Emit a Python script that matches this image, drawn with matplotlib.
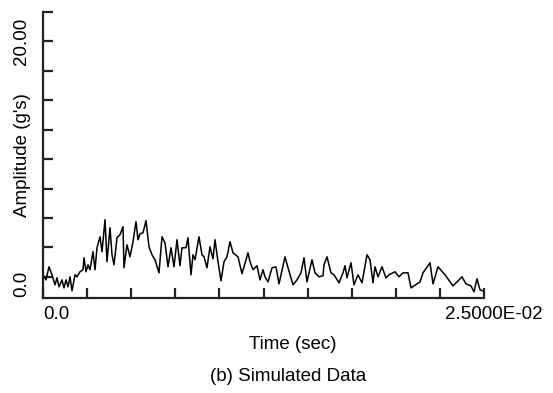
import numpy as np
import matplotlib.pyplot as plt
from matplotlib.transforms import ScaledTranslation

plt.rcParams['font.family'] = ['Liberation Sans', 'DejaVu Sans']

# time in milliseconds, amplitude in g's
time_ms = [0.000, 0.170, 0.340, 0.510, 0.680, 0.794, 0.907, 1.077, 1.190, 1.304,
           1.417, 1.531, 1.644, 1.814, 1.927, 2.098, 2.268, 2.324, 2.438, 2.551,
           2.664, 2.834, 2.948, 3.061, 3.231, 3.345, 3.515, 3.628, 3.798, 3.912,
           4.025, 4.195, 4.365, 4.535, 4.592, 4.762, 4.932, 5.102, 5.272, 5.385,
           5.499, 5.669, 5.839, 6.009, 6.179, 6.349, 6.576, 6.746, 6.916, 7.086,
           7.256, 7.426, 7.596, 7.766, 7.880, 8.107, 8.220, 8.390, 8.503, 8.617,
           8.843, 9.014, 9.127, 9.297, 9.467, 9.637, 9.751, 9.921, 10.091, 10.261,
           10.431, 10.601, 10.771, 11.054, 11.281, 11.621, 11.735, 11.905, 12.131, 12.301,
           12.472, 12.585, 12.755, 12.982, 13.209, 13.379, 13.719, 13.889, 14.172, 14.399,
           14.626, 14.796, 14.966, 15.249, 15.419, 15.646, 15.873, 15.930, 16.100, 16.326,
           16.496, 16.780, 17.007, 17.120, 17.233, 17.460, 17.630, 17.857, 18.084, 18.367,
           18.537, 18.707, 18.821, 18.991, 19.218, 19.444, 19.614, 19.955, 20.181, 20.408,
           20.691, 20.862, 21.372, 21.542, 21.939, 22.109, 22.392, 22.789, 23.242, 23.753,
           23.979, 24.263, 24.433, 24.603, 24.773, 24.943, 25.000]
amplitude = [0.17, -0.26, 0.85, 0.17, -0.68, -0.09, -0.85, -0.26, -0.94, -0.26,
             -0.85, 0.00, -1.19, 0.17, 0.00, 0.43, 0.60, 1.62, 0.43, 1.02,
             0.60, 2.13, 0.60, 2.47, 3.40, 2.13, 4.85, 1.28, 4.17, 1.87,
             1.02, 3.32, 3.57, 4.26, 0.77, 2.72, 1.70, 2.98, 4.68, 3.15,
             3.66, 3.74, 4.77, 2.55, 1.87, 1.45, 0.34, 3.40, 2.89, 0.85,
             2.47, 0.85, 3.15, 0.94, 2.47, 2.47, 3.32, 0.17, 1.87, 1.45,
             3.40, 1.87, 1.70, 0.77, 2.55, 1.53, 3.15, 1.28, -0.34, 1.28,
             1.70, 2.98, 2.04, 1.70, 0.26, 2.04, 1.28, 0.60, 0.94, -0.26,
             0.60, 0.00, -0.43, 0.77, 0.85, -0.60, 1.70, 0.77, -0.68, -0.26,
             0.34, 1.62, -0.43, 1.45, 0.34, 0.00, 0.09, 1.02, 1.70, 0.34,
             0.17, -0.51, 0.34, 0.94, -0.09, 1.19, -0.68, 0.17, -0.51, 1.87,
             1.45, -0.51, 0.85, 0.00, 0.85, -0.09, 0.17, 0.43, 0.00, 0.34,
             0.34, -0.94, -0.43, 0.34, 1.19, -0.60, 0.85, 0.17, -0.77, 0.00,
             -0.60, -0.77, -1.28, -0.17, -1.11, -1.19, -1.36]

x_ticks = np.arange(11) * 0.0025
x_labels = ['0.0'] + [''] * 9 + ['2.5000E-02']
y_ticks = np.arange(10) * 2.5
y_labels = ['0.0', '', '', '', '', '', '', '', '20.00', '']

fig = plt.figure(figsize=(5.53, 3.93), dpi=100)
ax = fig.add_axes([43 / 553, 95 / 393, 441 / 553, 286 / 393])

t = np.array(time_ms) * 1e-3
ax.plot(t, amplitude, color='black', lw=1.1)

ax.set_xlim(0, 0.025)
ax.set_ylim(-1.8, 22.5)
for s in ['top', 'right']:
    ax.spines[s].set_visible(False)
for s in ['left', 'bottom']:
    ax.spines[s].set_linewidth(1.6)
    ax.spines[s].set_color('#222222')

fs = 13.5
ax.set_xticks(x_ticks)
ax.set_xticklabels(x_labels, fontsize=fs)
ax.set_yticks(y_ticks)
ax.set_yticklabels(y_labels, fontsize=fs, rotation=90, va='center')
ax.tick_params(direction='in', length=7.5, width=1.6, color='#222222')
ax.tick_params(axis='x', pad=6)
ax.tick_params(axis='y', pad=9)
ax.get_xticklabels()[0].set_ha('left')
last = ax.get_xticklabels()[-1]
last.set_transform(last.get_transform() + ScaledTranslation(0.1, 0, fig.dpi_scale_trans))
y0 = ax.get_yticklabels()[0]
y0.set_transform(y0.get_transform() + ScaledTranslation(0, -0.07, fig.dpi_scale_trans))

ax.set_xlabel('Time (sec)', fontsize=fs)
ax.xaxis.set_label_coords(0.567, -0.132)
ax.set_ylabel("Amplitude (g's)", fontsize=fs)
ax.yaxis.set_label_coords(-0.027, 0.5)

fig.text(0.521, 0.043, '(b) Simulated Data', fontsize=fs, ha='center', va='center')

fig.savefig('out.png', dpi=100)
